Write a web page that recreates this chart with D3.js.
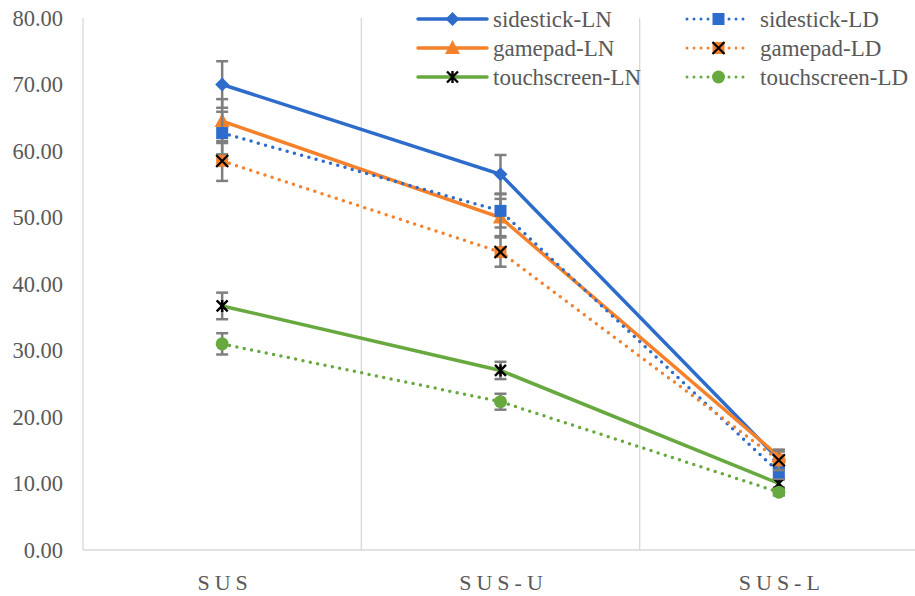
<!DOCTYPE html>
<html>
<head>
<meta charset="utf-8">
<script src="https://cdn.jsdelivr.net/npm/d3@7"></script>
<style>
  svg text { font-family: "Liberation Serif", serif !important; }
</style>
</head>
<body style="margin:0">
<svg id="chart" width="915" height="596" font-family="Liberation Serif"></svg>
<script>
// categories and values
const categories = ["SUS", "SUS-U", "SUS-L"];
const yTicks = [0, 10, 20, 30, 40, 50, 60, 70, 80];

const sidestickLN = [70.0, 56.5, 13.6];
const gamepadLN = [64.5, 50.0, 14.1];
const touchscreenLN = [36.7, 27.0, 10.0];
const sidestickLD = [62.7, 51.0, 11.7];
const gamepadLD = [58.5, 44.8, 13.5];
const touchscreenLD = [31.0, 22.3, 8.7];

// error bar half widths
const sidestickLNErr = [3.5, 2.9, 1.2];
const gamepadLNErr = [3.3, 2.8, 1.0];
const touchscreenLNErr = [2.0, 1.3, 0.6];
const sidestickLDErr = [3.2, 2.5, 1.0];
const gamepadLDErr = [3.0, 2.2, 1.5];
const touchscreenLDErr = [1.6, 1.2, 0.5];

const blue = "#2e6ccb", orange = "#f5812a", green = "#67a83f";
const serif = "Liberation Serif";

const series = [
    {name: "sidestick-LN", values: sidestickLN, err: sidestickLNErr, color: blue, dotted: false, marker: "diamond"},
    {name: "gamepad-LN", values: gamepadLN, err: gamepadLNErr, color: orange, dotted: false, marker: "triangle"},
    {name: "touchscreen-LN", values: touchscreenLN, err: touchscreenLNErr, color: green, dotted: false, marker: "star"},
    {name: "sidestick-LD", values: sidestickLD, err: sidestickLDErr, color: blue, dotted: true, marker: "square"},
    {name: "gamepad-LD", values: gamepadLD, err: gamepadLDErr, color: orange, dotted: true, marker: "xsquare"},
    {name: "touchscreen-LD", values: touchscreenLD, err: touchscreenLDErr, color: green, dotted: true, marker: "circle"}
];

const width = 915, height = 596;
const margin = {top: 18, right: -3, bottom: 46, left: 83};

const svg = d3.select("#chart");

const x = d3.scaleBand()
    .domain(categories)
    .range([margin.left, width - margin.right]);

const y = d3.scaleLinear()
    .domain([0, 80])
    .range([height - margin.bottom, margin.top]);

const gridColor = "#d9d9d9";

// vertical separators between categories
categories.slice(1).forEach(c => {
    svg.append("line")
        .attr("x1", x(c)).attr("x2", x(c))
        .attr("y1", y(80)).attr("y2", y(0))
        .attr("stroke", gridColor).attr("stroke-width", 1.3);
});

// axes lines
svg.append("line")
    .attr("x1", margin.left).attr("x2", margin.left)
    .attr("y1", y(80)).attr("y2", y(0))
    .attr("stroke", gridColor).attr("stroke-width", 1.3);
svg.append("line")
    .attr("x1", margin.left).attr("x2", width)
    .attr("y1", y(0)).attr("y2", y(0))
    .attr("stroke", gridColor).attr("stroke-width", 1.5);

// y tick labels
svg.selectAll(".ytick")
    .data(yTicks)
    .enter().append("text")
    .attr("class", "ytick")
    .attr("x", 63)
    .attr("y", d => y(d))
    .attr("dy", "0.35em")
    .attr("text-anchor", "end")
    .attr("font-family", serif)
    .style("font-family", serif, "important")
    .attr("font-size", 22.5)
    .attr("fill", "#595959")
    .text(d => d.toFixed(2));

// x labels
svg.selectAll(".xlab")
    .data(categories)
    .enter().append("text")
    .attr("class", "xlab")
    .attr("x", d => x(d) + x.bandwidth() / 2 + 3)
    .attr("y", 590)
    .attr("text-anchor", "middle")
    .attr("font-family", serif)
    .style("font-family", serif, "important")
    .attr("font-size", 22)
    .attr("letter-spacing", 5)
    .attr("fill", "#595959")
    .text(d => d);

const cx = c => x(c) + x.bandwidth() / 2;

function drawMarker(g, type, px, py, color) {
    if (type === "diamond") {
        g.append("path")
            .attr("d", `M${px},${py - 7}L${px + 7},${py}L${px},${py + 7}L${px - 7},${py}Z`)
            .attr("fill", color);
    } else if (type === "triangle") {
        g.append("path")
            .attr("d", `M${px},${py - 8}L${px + 7.5},${py + 6}L${px - 7.5},${py + 6}Z`)
            .attr("fill", color);
    } else if (type === "square") {
        g.append("rect")
            .attr("x", px - 6).attr("y", py - 6)
            .attr("width", 12).attr("height", 12)
            .attr("fill", color);
    } else if (type === "circle") {
        g.append("circle")
            .attr("cx", px).attr("cy", py).attr("r", 6.5)
            .attr("fill", color);
    } else if (type === "xsquare") {
        g.append("rect")
            .attr("x", px - 6).attr("y", py - 6)
            .attr("width", 12).attr("height", 12)
            .attr("fill", color);
        g.append("path")
            .attr("d", `M${px - 6},${py - 6}L${px + 6},${py + 6}M${px + 6},${py - 6}L${px - 6},${py + 6}`)
            .attr("stroke", "#000").attr("stroke-width", 2.2);
    } else if (type === "star") {
        g.append("path")
            .attr("d", `M${px - 5.5},${py - 5.5}L${px + 5.5},${py + 5.5}M${px + 5.5},${py - 5.5}L${px - 5.5},${py + 5.5}` +
                       `M${px},${py - 6}L${px},${py + 6}`)
            .attr("stroke", "#000").attr("stroke-width", 2.4);
    }
}

const line = d3.line()
    .x((d, i) => cx(categories[i]))
    .y(d => y(d));

series.forEach(s => {
    const g = svg.append("g");

    // error bars
    s.values.forEach((v, i) => {
        const px = cx(categories[i]);
        const e = s.err[i];
        g.append("line")
            .attr("x1", px).attr("x2", px)
            .attr("y1", y(v + e)).attr("y2", y(v - e))
            .attr("stroke", "#7f7f7f").attr("stroke-width", 2.5);
        [v + e, v - e].forEach(w => {
            g.append("line")
                .attr("x1", px - 6).attr("x2", px + 6)
                .attr("y1", y(w)).attr("y2", y(w))
                .attr("stroke", "#7f7f7f").attr("stroke-width", 2.5);
        });
    });

    g.append("path")
        .datum(s.values)
        .attr("d", line)
        .attr("fill", "none")
        .attr("stroke", s.color)
        .attr("stroke-width", 3.5)
        .attr("stroke-linecap", "round")
        .attr("stroke-dasharray", s.dotted ? "0 7.5" : null);

    s.values.forEach((v, i) => drawMarker(g, s.marker, cx(categories[i]), y(v), s.color));
});

// legend
const legend = svg.append("g");
series.forEach((s, i) => {
    const col = s.dotted ? 1 : 0;
    const row = i % 3;
    const ly = 19 + row * 29;
    const x0 = col ? 687 : 418, x1 = col ? 750 : 487;
    const item = legend.append("g");
    item.append("line")
        .attr("x1", x0).attr("x2", x1)
        .attr("y1", ly).attr("y2", ly)
        .attr("stroke", s.color)
        .attr("stroke-width", s.dotted ? 3 : 3.5)
        .attr("stroke-linecap", "round")
        .attr("stroke-dasharray", s.dotted ? "0 7" : null);
    drawMarker(item, s.marker, (x0 + x1) / 2, ly, s.color);
    item.append("text")
        .attr("x", col ? 760 : 493)
        .attr("y", ly)
        .attr("dy", "0.33em")
        .attr("font-family", serif)
        .style("font-family", serif, "important")
        .attr("font-size", 23)
        .attr("fill", "#595959")
        .text(s.name);
});
</script>
</body>
</html>
